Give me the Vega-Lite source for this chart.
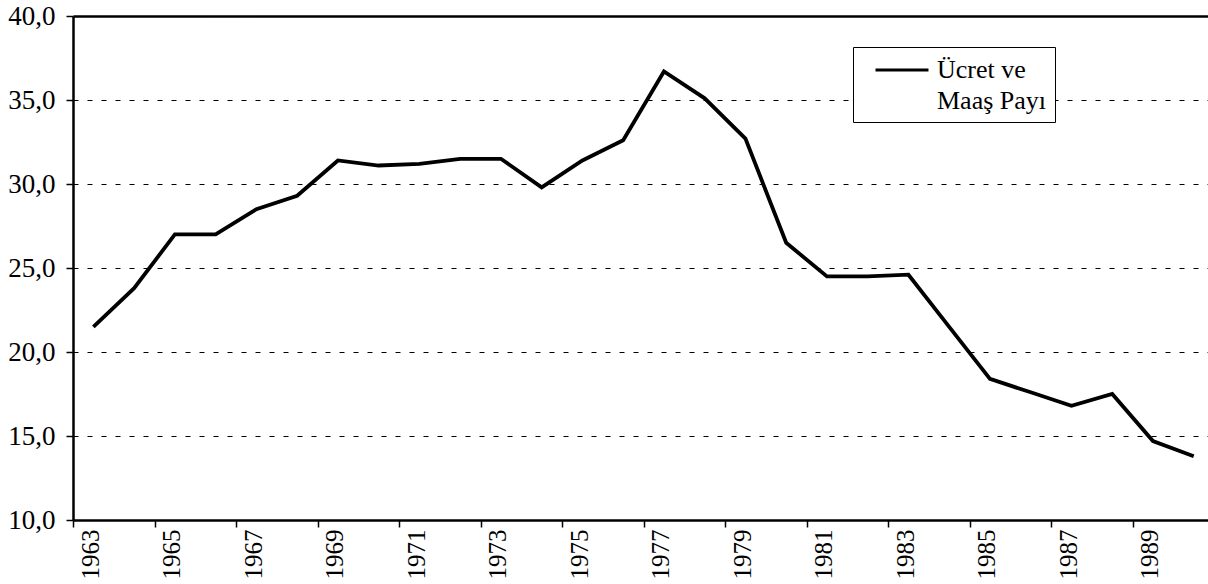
{
  "$schema": "https://vega.github.io/schema/vega-lite/v6.json",
  "width": 1135,
  "height": 504,
  "autosize": {"type": "none"},
  "padding": {"left": 73, "top": 16, "right": 0, "bottom": 64},
  "background": "#ffffff",
  "config": {
    "font": "Liberation Serif",
    "view": {"stroke": null},
    "axis": {"labelFont": "Liberation Serif", "labelColor": "#000", "domainColor": "#000", "tickColor": "#000"}
  },
  "data": {
    "values": [
      {"year": 1963, "value": 21.5, "series": "Ücret ve Maaş Payı"},
      {"year": 1964, "value": 23.8, "series": "Ücret ve Maaş Payı"},
      {"year": 1965, "value": 27.0, "series": "Ücret ve Maaş Payı"},
      {"year": 1966, "value": 27.0, "series": "Ücret ve Maaş Payı"},
      {"year": 1967, "value": 28.5, "series": "Ücret ve Maaş Payı"},
      {"year": 1968, "value": 29.3, "series": "Ücret ve Maaş Payı"},
      {"year": 1969, "value": 31.4, "series": "Ücret ve Maaş Payı"},
      {"year": 1970, "value": 31.1, "series": "Ücret ve Maaş Payı"},
      {"year": 1971, "value": 31.2, "series": "Ücret ve Maaş Payı"},
      {"year": 1972, "value": 31.5, "series": "Ücret ve Maaş Payı"},
      {"year": 1973, "value": 31.5, "series": "Ücret ve Maaş Payı"},
      {"year": 1974, "value": 29.8, "series": "Ücret ve Maaş Payı"},
      {"year": 1975, "value": 31.4, "series": "Ücret ve Maaş Payı"},
      {"year": 1976, "value": 32.6, "series": "Ücret ve Maaş Payı"},
      {"year": 1977, "value": 36.7, "series": "Ücret ve Maaş Payı"},
      {"year": 1978, "value": 35.1, "series": "Ücret ve Maaş Payı"},
      {"year": 1979, "value": 32.7, "series": "Ücret ve Maaş Payı"},
      {"year": 1980, "value": 26.5, "series": "Ücret ve Maaş Payı"},
      {"year": 1981, "value": 24.5, "series": "Ücret ve Maaş Payı"},
      {"year": 1982, "value": 24.5, "series": "Ücret ve Maaş Payı"},
      {"year": 1983, "value": 24.6, "series": "Ücret ve Maaş Payı"},
      {"year": 1984, "value": 21.5, "series": "Ücret ve Maaş Payı"},
      {"year": 1985, "value": 18.4, "series": "Ücret ve Maaş Payı"},
      {"year": 1986, "value": 17.6, "series": "Ücret ve Maaş Payı"},
      {"year": 1987, "value": 16.8, "series": "Ücret ve Maaş Payı"},
      {"year": 1988, "value": 17.5, "series": "Ücret ve Maaş Payı"},
      {"year": 1989, "value": 14.7, "series": "Ücret ve Maaş Payı"},
      {"year": 1990, "value": 13.8, "series": "Ücret ve Maaş Payı"}
    ]
  },
  "mark": {"type": "line", "strokeWidth": 3.8, "clip": true},
  "encoding": {
    "x": {
      "field": "year",
      "type": "quantitative",
      "scale": {"domain": [1962.5, 1990.35], "nice": false, "zero": false},
      "axis": {
        "title": null,
        "grid": false,
        "values": [1962.5, 1964.5, 1966.5, 1968.5, 1970.5, 1972.5, 1974.5, 1976.5, 1978.5, 1980.5, 1982.5, 1984.5, 1986.5, 1988.5],
        "labelExpr": "format(datum.value + 0.5, 'd')",
        "labelAngle": -90,
        "labelOffset": 17,
        "labelFontSize": 25,
        "labelPadding": 2,
        "tickSize": 7,
        "tickWidth": 1.5,
        "domainWidth": 2.5,
        "labelOverlap": false,
        "labelFlush": false
      }
    },
    "y": {
      "field": "value",
      "type": "quantitative",
      "scale": {"domain": [10, 40], "nice": false, "zero": false},
      "axis": {
        "title": null,
        "values": [10, 15, 20, 25, 30, 35, 40],
        "labelExpr": "replace(format(datum.value, '.1f'), '.', ',')",
        "labelFontSize": 27,
        "labelPadding": 11,
        "tickSize": 7,
        "tickWidth": 1.5,
        "domainWidth": 2.5,
        "grid": true,
        "gridColor": "#000",
        "gridDash": {"condition": {"test": "datum.value >= 40", "value": [1, 0]}, "value": [5, 9]},
        "gridWidth": {"condition": {"test": "datum.value >= 40", "value": 2.5}, "value": 1},
        "labelOverlap": false,
        "labelFlush": false
      }
    },
    "color": {
      "field": "series",
      "type": "nominal",
      "scale": {"range": ["#000000"]},
      "legend": {
        "title": null,
        "orient": "none",
        "legendX": 780,
        "legendY": 31,
        "strokeColor": "#000",
        "fillColor": "#fff",
        "padding": 8,
        "symbolType": "M-2,0H2",
        "symbolSize": 702,
        "symbolStrokeWidth": 3,
        "symbolOffset": 26,
        "labelFont": "Liberation Serif",
        "labelFontSize": 26,
        "labelColor": "#000",
        "labelOffset": 20,
        "labelLimit": 400,
        "labelBaseline": "middle",
        "labelExpr": "['Ücret ve', 'Maaş Payı']",
        "encode": {
          "labels": {"update": {"lineHeight": {"value": 31}}}
        }
      }
    }
  }
}
